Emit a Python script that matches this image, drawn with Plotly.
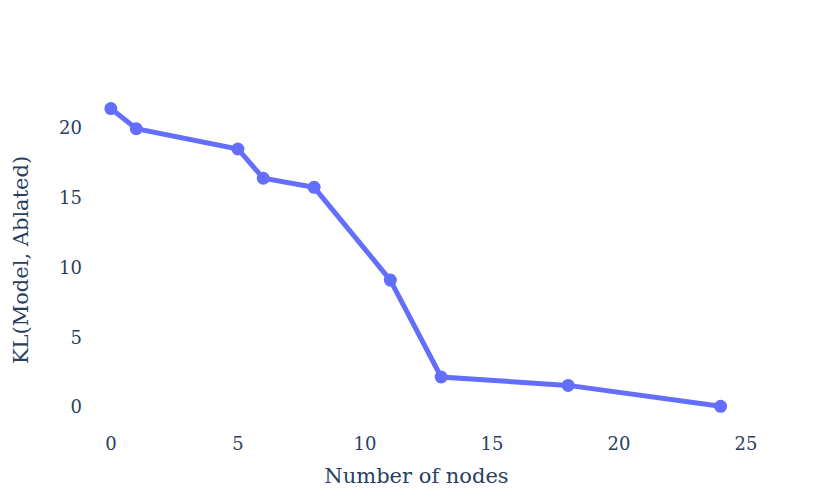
import plotly.graph_objects as go

num_nodes = [0, 1, 5, 6, 8, 11, 13, 18, 24]
kl_values = [21.4, 19.95, 18.5, 16.4, 15.75, 9.1, 2.15, 1.55, 0.05]

fig = go.Figure(
    go.Scatter(
        x=num_nodes,
        y=kl_values,
        mode="lines+markers",
        line=dict(color="#636efa", width=5),
        marker=dict(color="#636efa", size=13),
    )
)

fig.update_layout(
    template="plotly_white",
    width=830,
    height=498,
    margin=dict(l=72, r=88, t=93, b=87),
    font=dict(family="DejaVu Serif, serif", size=18, color="#2a3f5f"),
    xaxis=dict(title=dict(text="Number of nodes", font=dict(size=21)), showgrid=False,
               zeroline=False, range=[-1.097, 25.157], ticklabelstandoff=12),
    yaxis=dict(title=dict(text="KL(Model, Ablated)", font=dict(size=21), standoff=24),
               showgrid=False, zeroline=False, range=[-0.86, 21.94]),
    showlegend=False,
)

fig.write_html("out.html")
